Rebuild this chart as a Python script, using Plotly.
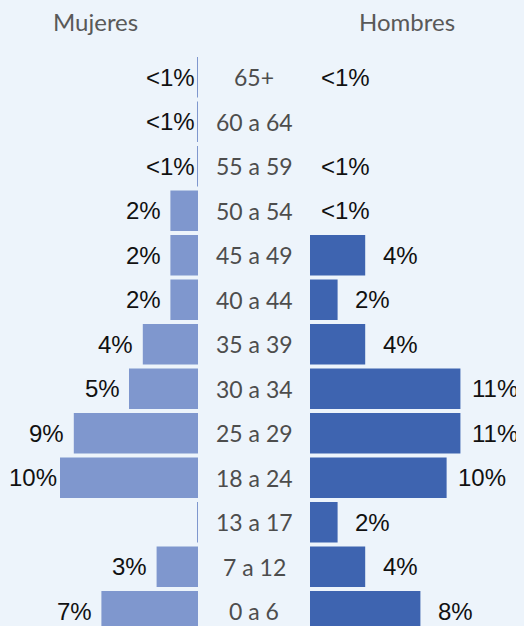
import plotly.graph_objects as go

# Data (top to bottom)
age_groups = ["65+", "60 a 64", "55 a 59", "50 a 54", "45 a 49", "40 a 44", "35 a 39",
              "30 a 34", "25 a 29", "18 a 24", "13 a 17", "7 a 12", "0 a 6"]
mujeres = [0.07, 0.07, 0.07, 2.0, 2.0, 2.0, 4.0, 5.0, 9.0, 10.0, 0.05, 3.0, 7.0]
mujeres_labels = ["<1%", "<1%", "<1%", "2%", "2%", "2%", "4%", "5%", "9%", "10%", "", "3%", "7%"]
hombres = [0.0, 0.0, 0.0, 0.0, 4.0, 2.0, 4.0, 10.9, 10.9, 9.9, 2.0, 4.0, 8.0]
hombres_labels = ["<1%", "", "<1%", "<1%", "4%", "2%", "4%", "11%", "11%", "10%", "2%", "4%", "8%"]

BG = "#EDF4FB"
C_MUJ = "#7F97CE"
C_HOM = "#3E64B0"
# page body has an 8px margin, so the figure is drawn 8px smaller
W, H = 516, 618
TOP = 47

fig = go.Figure()
fig.add_trace(go.Bar(y=age_groups, x=mujeres, orientation="h", marker=dict(color=C_MUJ, line=dict(width=0)),
                     xaxis="x", yaxis="y", hoverinfo="skip"))
fig.add_trace(go.Bar(y=age_groups, x=hombres, orientation="h", marker=dict(color=C_HOM, line=dict(width=0)),
                     xaxis="x2", yaxis="y", hoverinfo="skip"))

annotations = []
pct_font = dict(family="Liberation Sans, Arial, sans-serif", size=24, color="#111111")
lab_font = dict(family="Lato, sans-serif", size=23, color="#4D4D4D")
for cat, v, lab in zip(age_groups, mujeres, mujeres_labels):
    if lab:
        annotations.append(dict(x=v, y=cat, xref="x", yref="y", text=lab, showarrow=False,
                                xanchor="center", yanchor="middle", xshift=-27, font=pct_font))
for cat, v, lab in zip(age_groups, hombres, hombres_labels):
    if lab:
        annotations.append(dict(x=v, y=cat, xref="x2", yref="y", text=lab, showarrow=False,
                                xanchor="center", yanchor="middle", xshift=35, font=pct_font))
for cat in age_groups:
    annotations.append(dict(x=246 / W, y=cat, xref="paper", yref="y", text=cat, showarrow=False,
                            xanchor="center", yanchor="middle", font=lab_font))

title_font = dict(family="Lato, sans-serif", size=24, color="#595959")
title_y = 1 + (TOP - 14) / (H - TOP)
annotations.append(dict(x=87 / W, y=title_y, xref="paper", yref="paper", text="Mujeres", showarrow=False,
                        xanchor="center", yanchor="middle", font=title_font))
annotations.append(dict(x=399 / W, y=title_y, xref="paper", yref="paper", text="Hombres",
                        showarrow=False, xanchor="center", yanchor="middle", font=title_font))

px_per_unit = 13.8
row_px = 44.5
fig.update_layout(
    width=W, height=H,
    margin=dict(l=0, r=0, t=TOP, b=0),
    paper_bgcolor=BG, plot_bgcolor=BG,
    showlegend=False,
    bargap=0.09,
    xaxis=dict(domain=[0, 190 / W], range=[190 / px_per_unit, 0], visible=False, fixedrange=True),
    xaxis2=dict(domain=[302 / W, 1], range=[0, (W - 302) / px_per_unit], visible=False, fixedrange=True),
    yaxis=dict(type="category", categoryorder="array", categoryarray=age_groups[::-1],
               range=[12.5 - (H - TOP) / row_px, 12.5], visible=False, fixedrange=True),
    annotations=annotations,
)

fig.write_html("out.html", config={"displayModeBar": False},
               post_script="document.body.style.backgroundColor='%s';" % BG)
